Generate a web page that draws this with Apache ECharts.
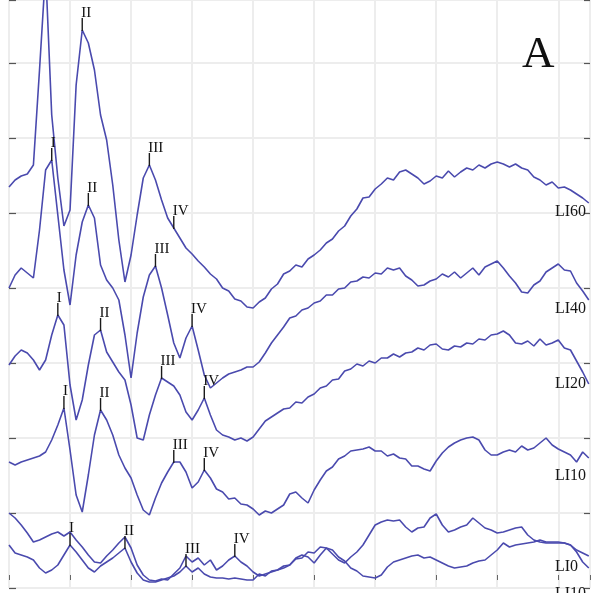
<!DOCTYPE html>
<html>
<head>
<meta charset="utf-8">
<script src="https://cdn.jsdelivr.net/npm/echarts@6/dist/echarts.min.js"></script>
<style>
  html, body { margin: 0; padding: 0; background: #ffffff; }
  #chart { width: 595px; height: 593px; }
</style>
</head>
<body>
<div id="chart"></div>
<script>
// Sampling interval of the recorded waveforms (ms)
const STEP = 0.1;

// Evoked response traces, one sample every STEP ms (amplitude in display units)
const li60 = [401, 408, 412, 414, 423, 518, 618, 473, 410, 362,
  378, 503, 558, 545, 518, 473, 448, 403, 348, 306,
  333, 373, 410, 423, 408, 388, 370, 360, 350,
  340, 334, 327, 321, 314, 309, 300, 297, 289, 287, 281, 280,
  286, 290, 299, 304, 314, 317, 323, 321, 329, 333, 338, 345, 349, 357, 362, 372, 379, 390, 391, 399,
  404, 410, 408, 416, 418, 414, 410, 404, 407, 412,
  410, 417, 411, 416, 420, 418, 423, 420, 424, 426,
  424, 421, 424, 420, 418, 411, 408, 403, 406, 400,
  401, 398, 394, 390, 385];

const li40 = [300, 313, 320, 315, 310, 358, 418, 428, 373, 318,
  283, 333, 366, 383, 370, 323, 308, 300, 288, 253,
  210, 255, 291, 313, 322, 300, 273, 245, 230, 250,
  262, 238, 213, 200, 205, 210, 214, 216, 218, 221,
  221, 226, 235, 245, 253, 261, 270, 272, 278, 280,
  285, 287, 293, 293, 299, 300, 306, 307, 311, 310,
  315, 314, 320, 318, 320, 312, 308, 302, 303, 307,
  309, 314, 311, 316, 310, 315, 320, 313, 321, 324,
  327, 320, 312, 305, 296, 295, 303, 307, 316, 320,
  324, 318, 317, 305, 297, 288];

const li20 = [223, 232, 238, 235, 228, 218, 228, 253, 273, 263,
  203, 168, 188, 223, 253, 258, 236, 226, 216, 208,
  183, 150, 148, 173, 193, 210, 206, 202, 193, 176,
  168, 178, 190, 173, 158, 153, 151, 148, 150, 147,
  151, 159, 167, 171, 175, 179, 180, 186, 185, 191,
  194, 200, 202, 208, 209, 217, 219, 224, 222, 227,
  225, 230, 230, 234, 231, 235, 236, 240, 238, 243,
  244, 239, 238, 242, 241, 245, 244, 249, 248, 253,
  254, 257, 253, 245, 244, 247, 242, 249, 243, 245,
  248, 240, 238, 227, 216, 204];

const li10 = [126, 123, 126, 128, 130, 132, 136, 148, 163, 180,
  138, 93, 76, 113, 153, 178, 168, 153, 133, 120,
  110, 93, 78, 73, 90, 105, 116, 126, 126, 116,
  100, 106, 118, 110, 99, 96, 89, 90, 84, 83,
  79, 73, 77, 75, 79, 83, 94, 96, 90, 85,
  98, 108, 117, 121, 129, 132, 137, 138, 139, 141,
  137, 137, 132, 134, 130, 129, 122, 122, 119, 117,
  127, 135, 141, 145, 148, 150, 151, 148, 138, 133,
  133, 136, 138, 136, 142, 138, 140, 145, 150, 143,
  139, 136, 133, 126, 136, 130];

const li0a = [75, 70, 63, 55, 46, 48, 51, 54, 56, 52,
  56, 48, 41, 33, 26, 25, 32, 38, 45, 51,
  40, 23, 13, 8, 7, 9, 8, 14, 20, 32,
  26, 30, 23, 28, 18, 22, 28, 32, 26, 22,
  16, 12, 14, 16, 18, 20, 23, 30, 33, 31,
  25, 33, 40, 34, 28, 25, 31, 36, 43, 53,
  63, 66, 68, 67, 68, 61, 56, 60, 61, 70,
  74, 63, 56, 58, 61, 63, 70, 65, 60, 58,
  55, 56, 58, 60, 61, 53, 48, 46, 45, 45,
  45, 45, 43, 36, 26, 20];

const li0b = [43, 35, 33, 31, 28, 20, 15, 18, 23, 33,
  43, 36, 28, 20, 16, 22, 26, 30, 35, 40,
  26, 15, 8, 6, 6, 8, 10, 12, 16, 22,
  16, 20, 14, 11, 10, 10, 9, 10, 9, 8,
  8, 14, 12, 17, 18, 22, 23, 29, 30, 36,
  35, 41, 40, 38, 31, 27, 20, 17, 12, 11,
  10, 13, 21, 26, 28, 30, 32, 33, 30, 31,
  28, 25, 22, 20, 21, 22, 25, 27, 28, 33,
  38, 45, 41, 43, 44, 45, 46, 48, 46, 46,
  46, 45, 43, 38, 35, 32];

// Wave peaks: [sample index, wave name]
const peaks60 = [[12, 'II'], [23, 'III'], [27, 'IV']];
const peaks40 = [[7, 'I'], [13, 'II'], [24, 'III'], [30, 'IV']];
const peaks20 = [[8, 'I'], [15, 'II'], [25, 'III'], [32, 'IV']];
const peaks10 = [[9, 'I'], [15, 'II'], [27, 'III'], [32, 'IV']];
const peaks0b = [[10, 'I'], [19, 'II'], [29, 'III']];
const peaks0a = [[37, 'IV']];

// Level names shown at the right end of each trace
const levelNames = ['LI60', 'LI40', 'LI20', 'LI10', 'LI0', 'LI10'];

const traces = [li60, li40, li20, li10, li0a, li0b];
const peakSets = [[li60, peaks60], [li40, peaks40], [li20, peaks20], [li10, peaks10], [li0b, peaks0b], [li0a, peaks0a]];

const toPoints = vals => vals.map((v, i) => [+(i * STEP).toFixed(2), v]);

const marks = [];
peakSets.forEach(([vals, list]) => {
  list.forEach(([idx, name]) => marks.push({ value: [+(idx * STEP).toFixed(2), vals[idx]], name }));
});

const LINE_COLOR = '#4a4aae';
const SERIF = '"Liberation Serif", "DejaVu Serif", serif';

const chart = echarts.init(document.getElementById('chart'), null, { renderer: 'canvas' });

const series = traces.map(vals => ({
  type: 'line',
  data: toPoints(vals),
  showSymbol: false,
  symbol: 'none',
  clip: true,
  lineStyle: { color: LINE_COLOR, width: 1.6 },
  itemStyle: { color: LINE_COLOR },
  animation: false,
  z: 3
}));

series.push({
  type: 'custom',
  data: marks.map(m => m.value),
  animation: false,
  z: 5,
  renderItem(params, api) {
    const p = api.coord([api.value(0), api.value(1)]);
    const name = marks[params.dataIndex].name;
    return {
      type: 'group',
      children: [
        { type: 'line', shape: { x1: p[0], y1: p[1] + 1, x2: p[0], y2: p[1] - 12 },
          style: { stroke: '#1a1a1a', lineWidth: 1.4 } },
        { type: 'text', style: { text: name, x: p[0] - 1, y: p[1] - 9, align: 'left', verticalAlign: 'bottom',
          font: '15px ' + SERIF, fill: '#111111' } }
      ]
    };
  }
});

const labelRows = [213, 310, 385, 477, 568, 595];
const graphics = levelNames.map((t, k) => ({
  type: 'text', left: 555, top: labelRows[k] - 9,
  style: { text: t, font: '16px ' + SERIF, fill: '#161616' }, z: 10
}));
graphics.push({ type: 'text', left: 522, top: 33, style: { text: 'A', font: '45px ' + SERIF, fill: '#111111' }, z: 10 });

chart.setOption({
  animation: false,
  backgroundColor: '#ffffff',
  grid: { left: 9, right: 5, top: 0, bottom: 5, containLabel: false },
  xAxis: {
    type: 'value', min: 0, max: 9.52, interval: 1, offset: -8,
    axisLine: { show: false },
    axisLabel: { show: false },
    axisTick: { show: true, inside: true, length: 5, lineStyle: { color: '#666', width: 1 } },
    splitLine: { show: true, lineStyle: { color: '#ededed', width: 2 } }
  },
  yAxis: [{
    type: 'value', min: 0, max: 588, interval: 75, position: 'left',
    axisLine: { show: false },
    axisLabel: { show: false },
    axisTick: { show: true, inside: true, length: 7, lineStyle: { color: '#555', width: 1.2 } },
    splitLine: { show: true, lineStyle: { color: '#ededed', width: 2 } }
  }, {
    type: 'value', min: 0, max: 588, interval: 75, position: 'right',
    axisLine: { show: false },
    axisLabel: { show: false },
    axisTick: { show: true, inside: true, length: 6, lineStyle: { color: '#555', width: 1.2 } },
    splitLine: { show: false }
  }],
  series,
  graphic: graphics
});
</script>
</body>
</html>
